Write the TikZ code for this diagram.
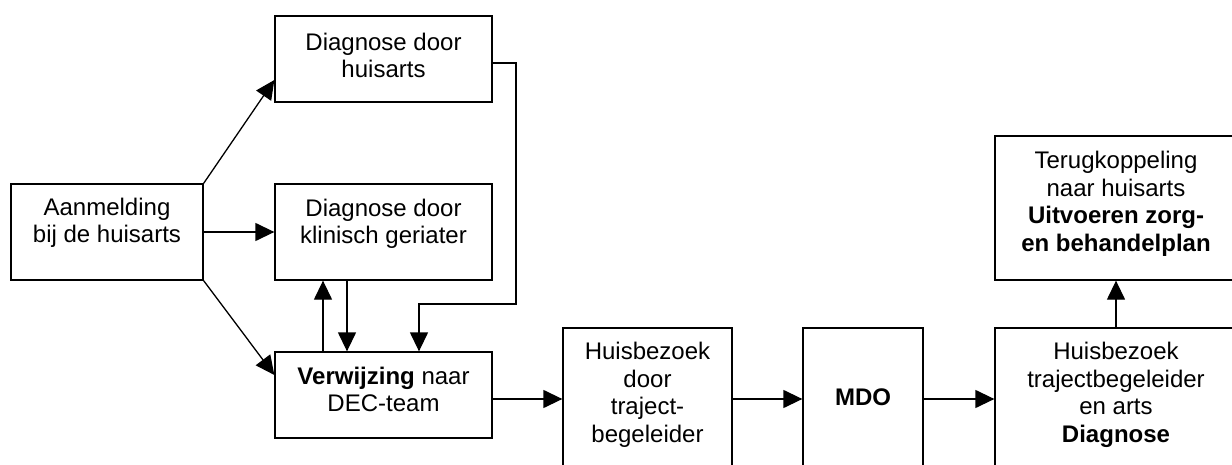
\documentclass[tikz,border=0pt]{standalone}
\usepackage{fontspec}
\setmainfont{Liberation Sans}
\usetikzlibrary{arrows.meta,calc}
\begin{document}
\begin{tikzpicture}[x=1pt,y=-1pt,
  line width=1.3pt,
  box/.style={draw,rectangle,inner sep=0pt},
  txt/.style={inner sep=0pt,align=center,
    font=\fontsize{24}{27.5}\selectfont},
  arr/.style={-{Triangle[length=19pt,width=18pt]}}]
\clip (0,0) rectangle (1232,465);
\fill[white] (0,0) rectangle (1232,465);

% boxes
\node[box,minimum width=192pt,minimum height=96pt]  (aan) at (107,232) {};
\node[box,minimum width=217pt,minimum height=86pt]  (dh)  at (383.5,59) {};
\node[box,minimum width=217pt,minimum height=96pt]  (dk)  at (383.5,232) {};
\node[box,minimum width=217pt,minimum height=86pt]  (ver) at (383.5,395) {};
\node[box,minimum width=169pt,minimum height=142pt] (hb)  at (647.5,399) {};
\node[box,minimum width=120pt,minimum height=142pt] (mdo) at (863,399) {};
\node[box,minimum width=242pt,minimum height=142pt] (fin) at (1116,399) {};
\node[box,minimum width=242pt,minimum height=144pt] (ter) at (1116,208) {};

% box texts
\node[txt] (aan-t) at ([yshift=9pt]aan.center) {Aanmelding\\bij de huisarts};
\node[txt] (dh-t)  at ([yshift=3.5pt]dh.center) {Diagnose door\\huisarts};
\node[txt] (dk-t)  at ([yshift=8pt]dk.center) {Diagnose door\\klinisch geriater};
\node[txt] (ver-t) at ([yshift=5.5pt]ver.center) {\textbf{Verwijzing} naar\\DEC-team};
\node[txt] (hb-t)  at ([yshift=4pt]hb.center) {Huisbezoek\\door\\traject-\\begeleider};
\node[txt] (mdo-t) at ([yshift=2pt]mdo.center) {\textbf{MDO}};
\node[txt] (fin-t) at ([yshift=4pt]fin.center) {Huisbezoek\\trajectbegeleider\\en arts\\\textbf{Diagnose}};
\node[txt] (ter-t) at ([yshift=4pt]ter.center) {Terugkoppeling\\naar huisarts\\\textbf{Uitvoeren zorg-}\\\textbf{en behandelplan}};

% connectors
\coordinate (bend) at (516,304);
\draw[arr] (aan.north east) -- ([yshift=-21pt]dh.west);
\draw[arr] (aan.east) -- (dk.west);
\draw[arr] (aan.south east) -- ([yshift=20pt]ver.west);
\draw[arr] ([yshift=-4pt]dh.east) -| (bend) -| ([xshift=35.5pt]ver.north);
\draw[arr] ([xshift=-60.5pt]ver.north) -- ([xshift=-60.5pt]dk.south);
\draw[arr] ([xshift=-36.5pt]dk.south) -- ([xshift=-36.5pt]ver.north);
\draw[arr] (hb.west -| ver.east) -- (hb.west);
\draw[arr] (hb.east) -- (mdo.west);
\draw[arr] (mdo.east) -- (fin.west);
\draw[arr] (fin.north) -- (ter.south);
\end{tikzpicture}
\end{document}
